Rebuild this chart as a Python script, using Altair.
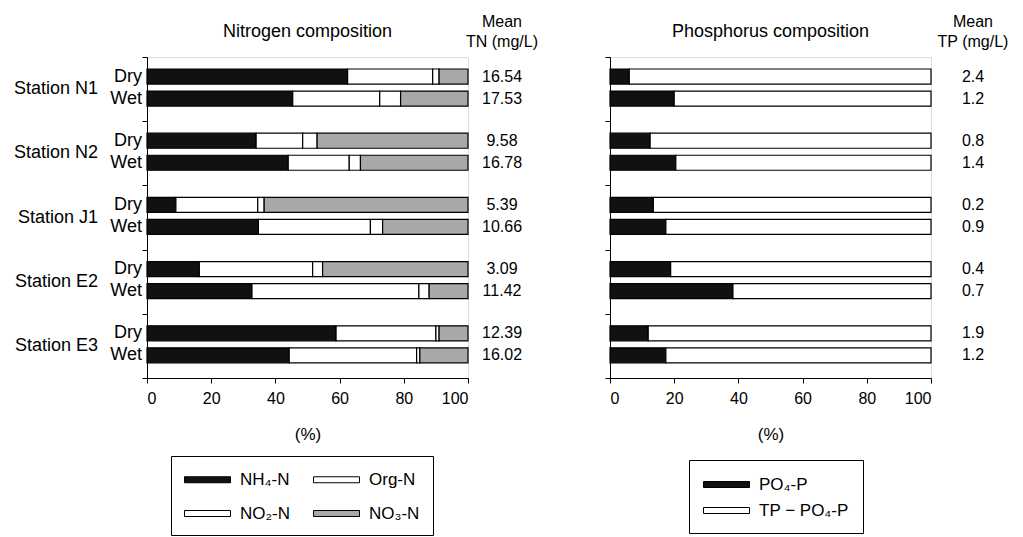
import altair as alt
import pandas as pd

# ---------------- data ----------------
stations = ["Station N1", "Station N2", "Station J1", "Station E2", "Station E3"]
seasons = ["Dry", "Wet"]

n_components = ["NH₄-N", "Org-N", "NO₂-N", "NO₃-N"]
nh4_n = [62.5, 45.4, 34.0, 44.0, 9.0, 34.7, 16.3, 32.7, 58.9, 44.3]
org_n = [26.5, 27.1, 14.5, 19.0, 25.5, 34.9, 35.3, 52.0, 31.1, 39.7]
no2_n = [2.0, 6.5, 4.5, 3.5, 2.0, 3.8, 3.1, 3.2, 1.0, 1.0]
no3_n = [9.0, 21.0, 47.0, 33.5, 63.5, 26.6, 45.3, 12.1, 9.0, 15.0]
mean_tn = ["16.54", "17.53", "9.58", "16.78", "5.39", "10.66", "3.09", "11.42", "12.39", "16.02"]

p_components = ["PO₄-P", "TP − PO₄-P"]
po4_p = [6.0, 20.0, 12.5, 20.5, 13.5, 17.4, 18.9, 38.3, 11.9, 17.4]
mean_tp = ["2.4", "1.2", "0.8", "1.4", "0.2", "0.9", "0.4", "0.7", "1.9", "1.2"]

FONT = "Liberation Sans"
W, H = 321, 321
DRY_OFF, WET_OFF, BAR_H = 0.187, 0.53, 0.234


def row_top(i):
    s, j = divmod(i, 2)
    return s + (DRY_OFF if j == 0 else WET_OFF)


def stack_frame(components, series):
    rows = []
    for i in range(len(series[0])):
        acc = 0.0
        top = row_top(i)
        for k, comp in enumerate(components):
            v = series[k][i]
            rows.append({"comp": comp, "ord": k, "x0": acc, "x1": acc + v,
                         "top": top, "bot": top + BAR_H})
            acc += v
    return pd.DataFrame(rows)


n_df = stack_frame(n_components, [nh4_n, org_n, no2_n, no3_n])
p_df = stack_frame(p_components, [po4_p, [100 - v for v in po4_p]])

rows_df = pd.DataFrame({
    "season": [seasons[i % 2] for i in range(10)],
    "mid": [row_top(i) + BAR_H / 2 for i in range(10)],
    "tn": mean_tn,
    "tp": mean_tp,
})
station_df = pd.DataFrame({"station": stations, "mid": [s + 0.5 for s in range(5)]})

yscale = alt.Scale(domain=[0, 5], reverse=True, nice=False, zero=False)
yaxis = alt.Axis(values=[0, 1, 2, 3, 4, 5], labels=False, title=None, grid=False,
                 tickSize=5, domainColor="black", tickColor="black")
xscale = alt.Scale(domain=[0, 100], nice=False)
xaxis = alt.Axis(values=[0, 20, 40, 60, 80, 100], title="(%)", grid=False, tickSize=5,
                 labelPadding=7, titlePadding=20, labelFontSize=16, titleFontSize=17,
                 titleFontWeight="normal", domainColor="black", tickColor="black",
                 labelColor="black", titleColor="black", labelFont=FONT, titleFont=FONT)

# wide, flat swatch: unit = 10 px (size 400); spans -10..36 px horizontally, -3..3 vertically
BAR_PATH = "M-1,-0.3H3.6V0.3H-1Z"


def panel(df, components, colors, legend, values_field, values_x, title, header2):
    bars = alt.Chart(df).mark_bar(stroke="black", strokeWidth=1.2).encode(
        x=alt.X("x0:Q", scale=xscale, axis=xaxis),
        x2="x1:Q",
        y=alt.Y("top:Q", scale=yscale, axis=yaxis),
        y2="bot:Q",
        color=alt.Color("comp:N", scale=alt.Scale(domain=components, range=colors),
                        legend=legend),
    )
    vals = alt.Chart(rows_df).mark_text(font=FONT, fontSize=16, align="center",
                                        baseline="middle", color="black").encode(
        x=alt.value(values_x), y=alt.Y("mid:Q", scale=yscale), text=f"{values_field}:N")
    one = station_df.head(1)
    t = alt.Chart(one).mark_text(font=FONT, fontSize=18, align="center",
                                 baseline="middle", color="black").encode(
        x=alt.value(W / 2), y=alt.value(-25), text=alt.value(title))
    h1 = alt.Chart(one).mark_text(font=FONT, fontSize=16, align="center",
                                  baseline="middle", color="black").encode(
        x=alt.value(values_x), y=alt.value(-35), text=alt.value("Mean"))
    h2 = alt.Chart(one).mark_text(font=FONT, fontSize=16, align="center",
                                  baseline="middle", color="black").encode(
        x=alt.value(values_x), y=alt.value(-15), text=alt.value(header2))
    return [bars, vals, t, h1, h2]


legend_common = dict(orient="none", title=None, symbolType=BAR_PATH, symbolSize=400,
                     symbolStrokeColor="black", symbolStrokeWidth=1, labelFontSize=17,
                     labelFont=FONT, labelColor="black", strokeColor="black",
                     fillColor="white", labelOffset=35)
n_legend = alt.Legend(legendX=24, legendY=399, columns=2, direction="horizontal",
                      padding=13, rowPadding=15, columnPadding=20, **legend_common)
p_legend = alt.Legend(legendX=79, legendY=403, columns=1, direction="vertical",
                      padding=14, rowPadding=7, **legend_common)

left_layers = panel(n_df, n_components, ["#111111", "white", "white", "#a8a8a8"], n_legend,
                    "tn", W + 34, "Nitrogen composition", "TN (mg/L)")
station_txt = alt.Chart(station_df).mark_text(font=FONT, fontSize=18, align="right",
                                              baseline="middle", color="black").encode(
    x=alt.value(-49), y=alt.Y("mid:Q", scale=yscale), text="station:N")
season_txt = alt.Chart(rows_df).mark_text(font=FONT, fontSize=18, align="right",
                                          baseline="middle", color="black").encode(
    x=alt.value(-5), y=alt.Y("mid:Q", scale=yscale), text="season:N")
left = alt.layer(*left_layers, station_txt, season_txt).properties(width=W, height=H)

right_layers = panel(p_df, p_components, ["#111111", "white"], p_legend,
                     "tp", W + 42, "Phosphorus composition", "TP (mg/L)")
right = alt.layer(*right_layers).properties(width=W, height=H)

chart = alt.hconcat(left, right, spacing=142, bounds="flush").resolve_scale(
    color="independent"
).properties(
    padding={"left": 13, "top": 13, "right": 5, "bottom": 5},
).configure_view(stroke="black", strokeWidth=1).configure(background="white")

chart.save("out.html", embed_options={"renderer": "svg", "actions": False})
